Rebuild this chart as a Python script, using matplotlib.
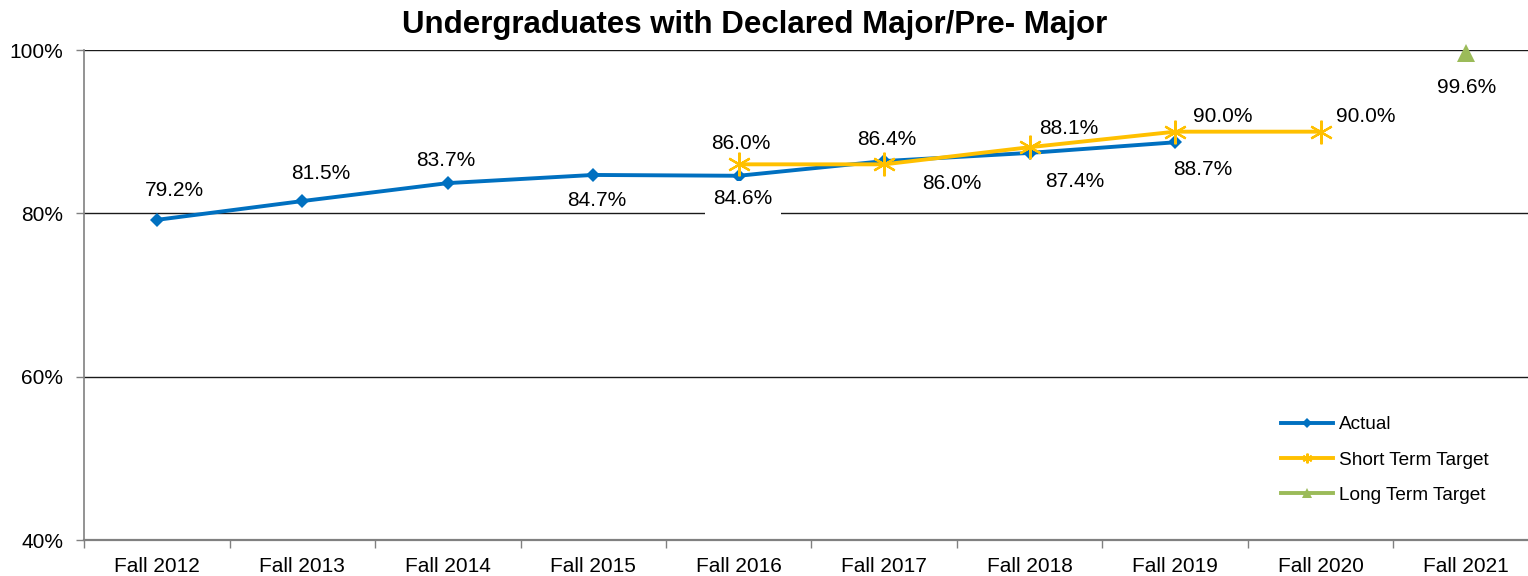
import matplotlib
matplotlib.use("Agg")
import matplotlib.pyplot as plt
from matplotlib.lines import Line2D
from matplotlib.ticker import FixedLocator, FuncFormatter

plt.rcParams['font.family'] = ['Liberation Sans', 'DejaVu Sans']

categories = ["Fall 2012", "Fall 2013", "Fall 2014", "Fall 2015", "Fall 2016",
              "Fall 2017", "Fall 2018", "Fall 2019", "Fall 2020", "Fall 2021"]
actual_values = [79.2, 81.5, 83.7, 84.7, 84.6, 86.4, 87.4, 88.7]
short_term_values = [86.0, 86.0, 88.1, 90.0, 90.0]
short_term_start = 4
long_term_values = [99.6]
long_term_start = 9
y_ticks = [40, 60, 80, 100]

title = "Undergraduates with Declared Major/Pre- Major"

# label offsets in pixels (layout only)
actual_offsets = [(18, 29), (18, 28), (-2, 23), (4, -26), (4, -23), (3, 22), (45, -29), (28, -27)]
short_offsets = [(2, 21), (68, -19), (39, 19), (48, 15), (45, 15)]
long_offsets = [(0, -34)]

W, H = 1528, 576
fig = plt.figure(figsize=(W / 100, H / 100), dpi=100)
left, right, top, bottom = 84, 1539, 50, 540
ax = fig.add_axes([left / W, 1 - bottom / H, (right - left) / W, (bottom - top) / H])
ax.set_xlim(-0.5, len(categories) - 0.5)
ax.set_ylim(40, 100)

blue = "#0070C0"
gold = "#FFC000"
green = "#9BBB59"

xa = list(range(len(actual_values)))
xs = list(range(short_term_start, short_term_start + len(short_term_values)))
xl = list(range(long_term_start, long_term_start + len(long_term_values)))

ax.plot(xa, actual_values, color=blue, lw=2.8, marker='D', markersize=7.5,
        markeredgewidth=0, zorder=4, clip_on=False)
ax.plot(xs, short_term_values, color=gold, lw=2.8, marker=(6, 2, 0), markersize=17,
        markeredgewidth=1.6, markeredgecolor=gold, zorder=5, clip_on=False)
ax.plot(xl, long_term_values, color=green, lw=2.8, marker='^', markersize=13,
        markeredgewidth=0, zorder=5, clip_on=False)

fs = 15
for x, v, (dx, dy) in zip(xa, actual_values, actual_offsets):
    kw = {}
    if x == 4:
        kw['bbox'] = dict(facecolor='white', edgecolor='none', pad=6)
    ax.annotate(f"{v:.1f}%", (x, v), xytext=(dx, dy), textcoords='offset pixels',
                ha='center', va='center', fontsize=fs, color='black', zorder=6, **kw)
for x, v, (dx, dy) in zip(xs, short_term_values, short_offsets):
    ax.annotate(f"{v:.1f}%", (x, v), xytext=(dx, dy), textcoords='offset pixels',
                ha='center', va='center', fontsize=fs, color='black', zorder=6)
for x, v, (dx, dy) in zip(xl, long_term_values, long_offsets):
    ax.annotate(f"{v:.1f}%", (x, v), xytext=(dx, dy), textcoords='offset pixels',
                ha='center', va='center', fontsize=fs, color='black', zorder=6)

# grid
for yv in y_ticks[1:]:
    ax.axhline(yv, color='#1a1a1a', lw=1.0, zorder=1)

for s in ['top', 'right']:
    ax.spines[s].set_visible(False)
ax.spines['left'].set_color('#808080')
ax.spines['left'].set_linewidth(1.2)
ax.spines['bottom'].set_color('#808080')
ax.spines['bottom'].set_linewidth(1.6)

ax.set_yticks(y_ticks)
ax.yaxis.set_major_formatter(FuncFormatter(lambda v, p: f"{v:.0f}%"))
ax.tick_params(axis='y', length=6, width=1, color='#808080', pad=9, labelsize=fs)

ax.set_xticks(range(len(categories)))
ax.set_xticklabels(categories)
ax.xaxis.set_minor_locator(FixedLocator([i - 0.5 for i in range(len(categories) + 1)]))
ax.tick_params(axis='x', which='major', length=0, pad=12, labelsize=fs)
ax.tick_params(axis='x', which='minor', length=6, width=1, color='#808080')

fig.text(755 / W, 1 - 25 / H, title, ha='center', va='center', fontsize=22.5,
         fontweight='bold')

handles = [
    Line2D([], [], color=blue, lw=2.8, marker='D', markersize=5, markeredgewidth=0),
    Line2D([], [], color=gold, lw=2.8, marker=(6, 2, 0), markersize=7, markeredgewidth=1.5,
           markeredgecolor=gold),
    Line2D([], [], color=green, lw=2.8, marker='^', markersize=6.5, markeredgewidth=0),
]
labels = ["Actual", "Short Term Target", "Long Term Target"]
fig.legend(handles, labels, loc='upper left', bbox_to_anchor=(1281 / W, 1 - 416 / H),
           frameon=False, fontsize=13.7, handlelength=2.75, handletextpad=0.28,
           labelspacing=0.95, borderpad=0, borderaxespad=0)

fig.savefig("out.png", dpi=100)
